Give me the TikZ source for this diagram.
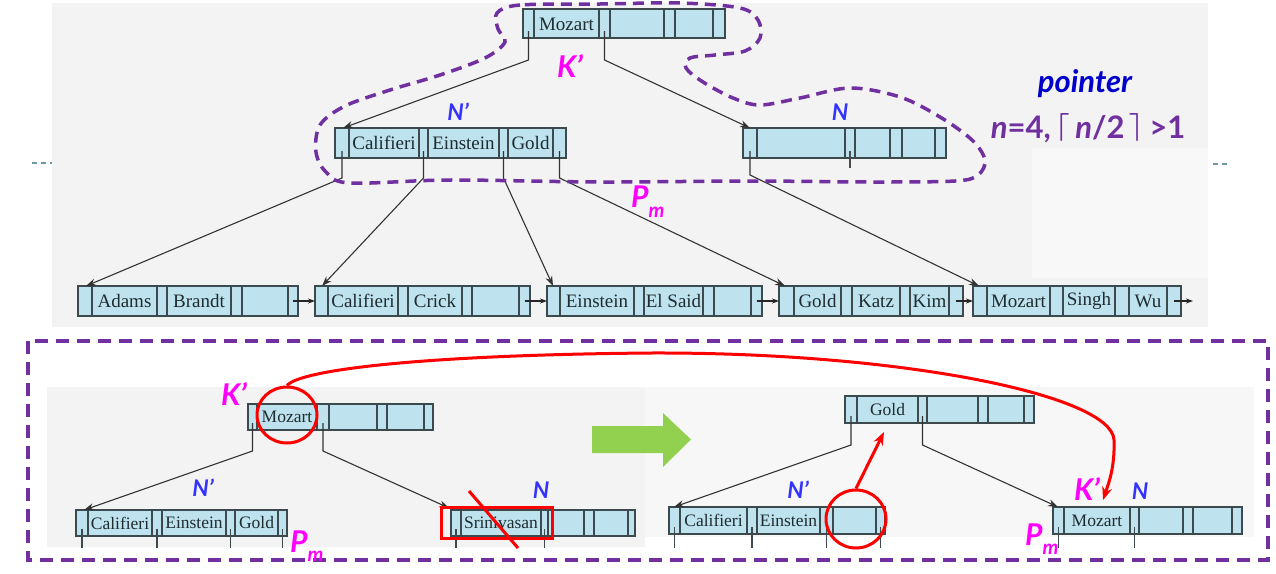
\documentclass[tikz,border=0pt]{standalone}
\usepackage{fontspec}
\usepackage{graphicx}
\setmainfont{Liberation Serif}
\newfontfamily\labfont{Lato}
\usetikzlibrary{arrows.meta,calc,shapes.geometric}
\definecolor{cellfill}{HTML}{BFE3EE}
\definecolor{cellline}{HTML}{3C4A4E}
\definecolor{slidegray}{HTML}{F3F3F3}
\definecolor{slidelight}{HTML}{F8F8F8}
\definecolor{kpurple}{HTML}{7030A0}
\definecolor{kmag}{HTML}{FF00FF}
\definecolor{kblue}{HTML}{3333FF}
\definecolor{pblue}{HTML}{0000CC}
\definecolor{kgreen}{HTML}{92D050}
\definecolor{kred}{HTML}{FF0000}
\definecolor{dashteal}{HTML}{6E9AA8}
\definecolor{keyink}{HTML}{1E2B2F}
\newcommand\bpn[6]{%
  \node[bpbox, minimum width={(#3)-(#2)}, minimum height={(#5)-(#4)}, anchor=north west] (#1) at (#2,#4) {};
  \foreach \d in {#6} \draw[bpline] (\d,#4) -- (\d,#5);
}
\newcommand\bigceilL{\raisebox{4.5pt}{\resizebox*{!}{28pt}{\boldmath$\lceil$}}}
\newcommand\bigceilR{\raisebox{4.5pt}{\resizebox*{!}{28pt}{\boldmath$\rceil$}}}
\begin{document}
\begin{tikzpicture}[x=1pt,y=-1pt,
  bpbox/.style={draw=cellline, fill=cellfill, line width=1.4pt, inner sep=0pt, outer sep=0pt},
  bpline/.style={draw=cellline, line width=1.4pt},
  keytop/.style={inner sep=0pt, text=keyink, font={\fontsize{19}{19}\selectfont}},
  keybot/.style={inner sep=0pt, text=keyink, font={\fontsize{17.5}{17.5}\selectfont}},
  conn/.style={draw=black!80, line width=1.1pt, -{Stealth[length=10pt,width=7pt]}},
  leafarr/.style={draw=black!85, line width=1.1pt, -{Stealth[length=7pt,width=5pt]}},
  maglab/.style={inner sep=0pt, text=kmag, font={\labfont\bfseries\itshape\fontsize{30}{30}\selectfont}},
  bluelab/.style={inner sep=0pt, text=kblue, font={\labfont\bfseries\itshape\fontsize{23}{23}\selectfont}},
  blobdash/.style={draw=kpurple, line width=3.5pt, dash pattern=on 11pt off 7pt},
  boxdash/.style={draw=kpurple, line width=3.5pt, dash pattern=on 13pt off 8pt},
  redline/.style={draw=kred, line width=3pt},
  redcirc/.style={draw=kred, line width=3pt, ellipse, inner sep=0pt}
]
\useasboundingbox (0,0) rectangle (1276,573);
\fill[white] (0,0) rectangle (1276,573);
% slide backgrounds
\fill[slidegray] (52,3) rectangle (1208,327);
\fill[slidelight] (1032,148) rectangle (1208,278);
\fill[slidegray] (47,387) rectangle (645,547);
\fill[slidegray!70!white] (645,387) rectangle (1254,537);
\draw[dashteal, line width=1.2pt, dash pattern=on 5pt off 4pt] (32,163) -- (52,163);
\draw[dashteal, line width=1.2pt, dash pattern=on 5pt off 4pt] (1213,164) -- (1230,164);

% ===== top tree =====
\bpn{root}{523}{725}{9}{38}{534,599,610,664,675,713}
\node[keytop] (kroot) at (566.5,24) {Mozart};
\bpn{np}{335}{566}{128}{158}{349,419,428,499,508,553}
\node[keytop] (knp1) at (384,143) {Califieri};
\node[keytop] (knp2) at (463.5,143) {Einstein};
\node[keytop] (knp3) at (530.5,143) {Gold};
\bpn{nn}{743}{946}{128}{158}{757,845,855,890,902,935}
% leaves
\bpn{la}{78}{298}{286}{316}{92,157,167,231,242,288}
\node[keytop] (kla1) at (124.5,301) {Adams};
\node[keytop] (kla2) at (199,301) {Brandt};
\bpn{lb}{315}{530}{286}{316}{328,398,408,462,472,519}
\node[keytop] (klb1) at (363,301) {Califieri};
\node[keytop] (klb2) at (435,301) {Crick};
\bpn{lc}{547}{762}{286}{316}{560,634,644,703,714,751}
\node[keytop] (klc1) at (597,301) {Einstein};
\node[keytop] (klc2) at (673.5,301) {El Said};
\bpn{ld}{779}{963}{286}{316}{794,841,852,900,910,949}
\node[keytop] (kld1) at (817.5,301) {Gold};
\node[keytop] (kld2) at (876,301) {Katz};
\node[keytop] (kld3) at (929.5,301) {Kim};
\bpn{le}{973}{1181}{286}{316}{987,1050,1063,1115,1129,1167}
\node[keytop] (kle1) at (1018.5,301) {Mozart};
\node[keytop] (kle2) at (1089,301) {Singh};
\node[keytop] (kle3) at (1148,301) {Wu};

% pointer coordinates
\coordinate (rP1) at (528.5,31);   \coordinate (rB1) at (528.5,60);
\coordinate (rP2) at (604.5,31);   \coordinate (rB2) at (604.5,60);
\coordinate (nP1) at (342,151);    \coordinate (nB1) at (342,178);
\coordinate (nP2) at (423.5,151);  \coordinate (nB2) at (423.5,178);
\coordinate (nP3) at (503.5,151);  \coordinate (nB3) at (503.5,178);
\coordinate (nP4) at (559.5,151);  \coordinate (nB4) at (559.5,178);
\coordinate (mP1) at (750,151);    \coordinate (mB1) at (750,175);
\coordinate (mP2) at (850,151);    \coordinate (mB2) at (850,168);

\draw[conn] (rP1) -- (rB1) -- ($(np.north west)+(8,0)$);
\draw[conn] (rP2) -- (rB2) -- ($(nn.north west)+(7,0)$);
\draw[conn] (nP1) -- (nB1) -- ($(la.north west)+(8,0)$);
\draw[conn] (nP2) -- (nB2) -- ($(lb.north west)+(7,0)$);
\draw[conn] (nP3) -- (nB3) -- ($(lc.north west)+(6,0)$);
\draw[conn] (nP4) -- (nB4) -- ($(ld.north west)+(6,0)$);
\draw[conn] (mP1) -- (mB1) -- ($(le.north west)+(6,0)$);
\draw[draw=black!70, line width=1.3pt] (mP2) -- (mB2);

% leaf chain
\coordinate (laE) at (293,301);
\coordinate (lbE) at (524.5,301);
\coordinate (lcE) at (756.5,301);
\coordinate (ldE) at (956,301);
\coordinate (leE) at (1174,301);
\coordinate (leN) at (1193,301);
\draw[leafarr] (laE) -- (lb.west);
\draw[leafarr] (lbE) -- (lc.west);
\draw[leafarr] (lcE) -- (ld.west);
\draw[leafarr] (ldE) -- (le.west);
\draw[leafarr] (leE) -- (leN);

% dashed blob
\draw[blobdash] plot[smooth cycle, tension=0.55] coordinates {
 (600,4) (520,5) (497,13) (498,29) (505,42) (485,58) (440,75) (390,90) (345,106) (320,125)
 (316,152) (326,172) (350,183) (450,180) (600,182) (750,181) (870,182) (955,181) (978,175)
 (985,160) (972,140) (940,117) (900,97) (850,88) (800,98) (760,105) (733,98) (703,82)
 (686,68) (690,58) (715,55) (745,51) (760,38) (758,20) (740,8) (680,3)};

% top labels
\node[maglab] (tK) at (570,66) {K’};
\node[bluelab] (tNp) at (458,112) {N’};
\node[bluelab] (tN) at (840,112) {N};
\node[maglab, anchor=base west] (tPm) at (631,207) {P\raisebox{-10pt}{\fontsize{20}{20}\selectfont m}};
\node[inner sep=0pt, text=pblue, font={\labfont\bfseries\itshape\fontsize{31}{31}\selectfont}] (tptr) at (1085,84) {pointer};
\node[inner sep=0pt, text=kpurple, font={\labfont\bfseries\fontsize{31}{31}\selectfont}] (tcond) at (1088,128)
  {{\itshape n}=4,\,\bigceilL\,{\itshape n}/2\,\bigceilR\,>1};

% ===== bottom box =====
\draw[boxdash] (28,341) rectangle (1268,560);

% left: before
\bpn{bm}{248}{433}{404}{430}{257,317,329,377,387,424}
\node[keybot] (kbm) at (287,417) {Mozart};
\bpn{bnp}{76}{287}{510}{536}{88,152,162,226,235,278}
\node[keybot] (kbnp1) at (120,523) {Califieri};
\node[keybot] (kbnp2) at (194,523) {Einstein};
\node[keybot] (kbnp3) at (256.5,523) {Gold};
\bpn{bsr}{451}{635}{510}{536}{461,541,548,584,594,628}
\node[keybot] (kbsr) at (501,523) {Srinivasan};

\coordinate (bP1) at (252.5,423); \coordinate (bB1) at (252.5,451);
\coordinate (bP2) at (323,423);   \coordinate (bB2) at (323,451);
\draw[conn] (bP1) -- (bB1) -- ($(bnp.north west)+(8,0)$);
\draw[conn] (bP2) -- (bB2) -- ($(bsr.north west)+(-2,-2)$);
\foreach \x in {82,157,230.5,282.5} \draw[bpline, line width=1.2pt] (\x,529) -- (\x,548);
\foreach \x in {456,544.5} \draw[bpline, line width=1.2pt] (\x,529) -- (\x,548);

% right: after
\bpn{gr}{845}{1034}{396}{423}{857,918,927,978,988,1024}
\node[keybot] (kgr) at (887.5,409.5) {Gold};
\bpn{rnp}{669}{885}{507}{534}{680,747,757,820,833,876}
\node[keybot] (krnp1) at (713.5,520.5) {Califieri};
\node[keybot] (krnp2) at (788.5,520.5) {Einstein};
\bpn{rmz}{1053}{1242}{507}{534}{1064,1130,1139,1183,1193,1232}
\node[keybot] (krmz) at (1097,520.5) {Mozart};

\coordinate (gP1) at (851,416);   \coordinate (gB1) at (851,445);
\coordinate (gP2) at (922.5,416); \coordinate (gB2) at (922.5,445);
\draw[conn] (gP1) -- (gB1) -- ($(rnp.north west)+(5,0)$);
\draw[conn] (gP2) -- (gB2) -- ($(rmz.north west)+(5,0)$);
\foreach \x in {674.5,752,826.5,880.5} \draw[bpline, line width=1.2pt] (\x,527) -- (\x,548);
\foreach \x in {1058.5,1134.5} \draw[bpline, line width=1.2pt] (\x,527) -- (\x,548);

% green arrow
\fill[kgreen] (592,426) -- (663,426) -- (663,413) -- (691,439.5) -- (663,467) -- (663,453) -- (592,453) -- cycle;

% red marks
\node[redcirc, minimum width=60pt, minimum height=56pt] (lcirc) at (287,415) {};
\node[redcirc, minimum width=60pt, minimum height=58pt] (rcirc) at (856,519) {};
\draw[redline] (441,507) rectangle (552,538);
\draw[redline] (469,491) -- (518,548);
\coordinate (kdest) at (1103,500);
\coordinate (gslot) at (884,432);
\draw[redline, -{Stealth[length=13pt,width=10pt]}] (lcirc.north) .. controls (300,370) and (420,355) .. (650,353)
  .. controls (900,352) and (1112,395) .. (1114,440) .. controls (1115,468) and (1108,485) .. (kdest);
\draw[redline, -{Stealth[length=13pt,width=10pt]}] (rcirc.north) -- (gslot);

% bottom labels
\node[maglab] (bK) at (234,394) {K’};
\node[bluelab] (bNp) at (203,488) {N’};
\node[bluelab] (bN) at (541,490) {N};
\node[maglab, anchor=base west] (bPm) at (290,552) {P\raisebox{-9pt}{\fontsize{20}{20}\selectfont m}};
\node[bluelab] (rNp) at (798,490) {N’};
\node[maglab] (rK) at (1087,489) {K’};
\node[bluelab] (rN) at (1140,491) {N};
\node[maglab, anchor=base west] (rPm) at (1025,545) {P\raisebox{-9pt}{\fontsize{20}{20}\selectfont m}};
\end{tikzpicture}
\end{document}
